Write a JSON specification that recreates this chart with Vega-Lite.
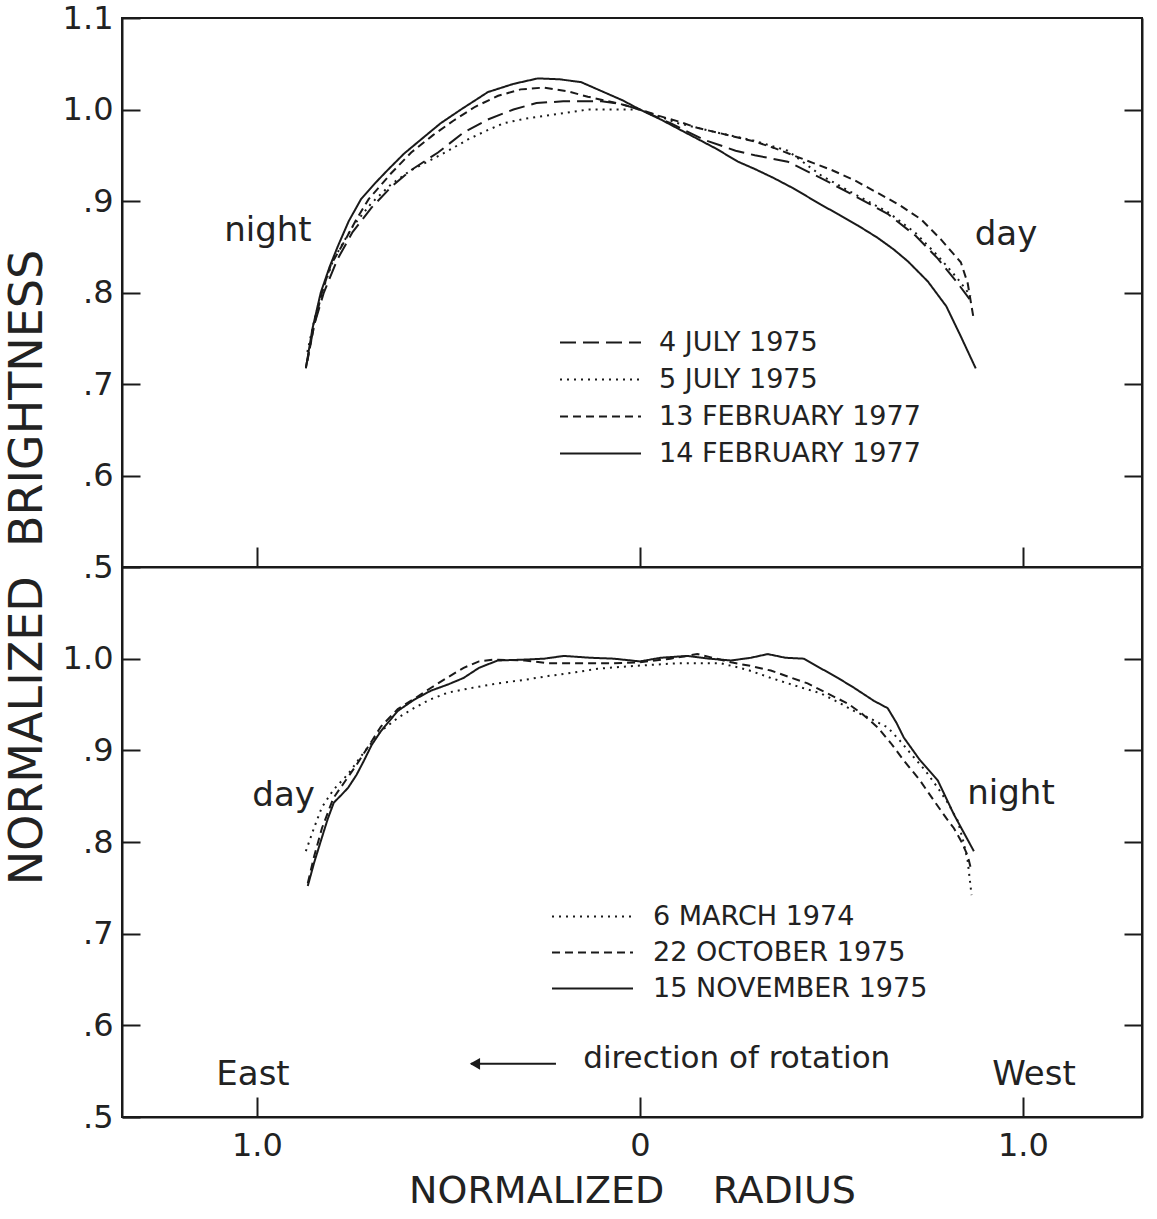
{
  "$schema": "https://vega.github.io/schema/vega-lite/v6.json",
  "background": "white",
  "padding": {"left": 3, "top": 1, "right": 10, "bottom": 5},
  "spacing": 0,
  "bounds": "flush",
  "datasets": {
    "top": [
      {"series": "14 FEBRUARY 1977", "x": -0.872, "y": 0.717},
      {"series": "14 FEBRUARY 1977", "x": -0.855, "y": 0.76},
      {"series": "14 FEBRUARY 1977", "x": -0.833, "y": 0.8},
      {"series": "14 FEBRUARY 1977", "x": -0.81, "y": 0.828},
      {"series": "14 FEBRUARY 1977", "x": -0.789, "y": 0.85},
      {"series": "14 FEBRUARY 1977", "x": -0.76, "y": 0.878},
      {"series": "14 FEBRUARY 1977", "x": -0.728, "y": 0.902},
      {"series": "14 FEBRUARY 1977", "x": -0.69, "y": 0.92},
      {"series": "14 FEBRUARY 1977", "x": -0.658, "y": 0.934},
      {"series": "14 FEBRUARY 1977", "x": -0.615, "y": 0.952},
      {"series": "14 FEBRUARY 1977", "x": -0.572, "y": 0.967},
      {"series": "14 FEBRUARY 1977", "x": -0.52, "y": 0.985},
      {"series": "14 FEBRUARY 1977", "x": -0.467, "y": 1.0},
      {"series": "14 FEBRUARY 1977", "x": -0.43, "y": 1.01},
      {"series": "14 FEBRUARY 1977", "x": -0.397, "y": 1.019},
      {"series": "14 FEBRUARY 1977", "x": -0.33, "y": 1.028},
      {"series": "14 FEBRUARY 1977", "x": -0.266, "y": 1.034},
      {"series": "14 FEBRUARY 1977", "x": -0.21, "y": 1.033},
      {"series": "14 FEBRUARY 1977", "x": -0.154, "y": 1.03},
      {"series": "14 FEBRUARY 1977", "x": -0.094, "y": 1.019},
      {"series": "14 FEBRUARY 1977", "x": -0.045, "y": 1.01},
      {"series": "14 FEBRUARY 1977", "x": 0.0, "y": 1.0},
      {"series": "14 FEBRUARY 1977", "x": 0.055, "y": 0.989},
      {"series": "14 FEBRUARY 1977", "x": 0.1, "y": 0.979},
      {"series": "14 FEBRUARY 1977", "x": 0.15, "y": 0.968},
      {"series": "14 FEBRUARY 1977", "x": 0.2, "y": 0.957},
      {"series": "14 FEBRUARY 1977", "x": 0.256, "y": 0.943},
      {"series": "14 FEBRUARY 1977", "x": 0.3, "y": 0.935},
      {"series": "14 FEBRUARY 1977", "x": 0.35, "y": 0.925},
      {"series": "14 FEBRUARY 1977", "x": 0.4, "y": 0.914},
      {"series": "14 FEBRUARY 1977", "x": 0.473, "y": 0.896},
      {"series": "14 FEBRUARY 1977", "x": 0.52, "y": 0.885},
      {"series": "14 FEBRUARY 1977", "x": 0.57, "y": 0.873},
      {"series": "14 FEBRUARY 1977", "x": 0.62, "y": 0.86},
      {"series": "14 FEBRUARY 1977", "x": 0.663, "y": 0.847},
      {"series": "14 FEBRUARY 1977", "x": 0.7, "y": 0.834},
      {"series": "14 FEBRUARY 1977", "x": 0.752, "y": 0.812},
      {"series": "14 FEBRUARY 1977", "x": 0.8, "y": 0.785},
      {"series": "14 FEBRUARY 1977", "x": 0.838, "y": 0.752},
      {"series": "14 FEBRUARY 1977", "x": 0.877, "y": 0.717},

      {"series": "13 FEBRUARY 1977", "x": -0.868, "y": 0.725},
      {"series": "13 FEBRUARY 1977", "x": -0.85, "y": 0.765},
      {"series": "13 FEBRUARY 1977", "x": -0.83, "y": 0.8},
      {"series": "13 FEBRUARY 1977", "x": -0.807, "y": 0.83},
      {"series": "13 FEBRUARY 1977", "x": -0.771, "y": 0.856},
      {"series": "13 FEBRUARY 1977", "x": -0.74, "y": 0.88},
      {"series": "13 FEBRUARY 1977", "x": -0.708, "y": 0.902},
      {"series": "13 FEBRUARY 1977", "x": -0.65, "y": 0.93},
      {"series": "13 FEBRUARY 1977", "x": -0.597, "y": 0.953},
      {"series": "13 FEBRUARY 1977", "x": -0.54, "y": 0.972},
      {"series": "13 FEBRUARY 1977", "x": -0.486, "y": 0.988},
      {"series": "13 FEBRUARY 1977", "x": -0.43, "y": 1.003},
      {"series": "13 FEBRUARY 1977", "x": -0.37, "y": 1.015},
      {"series": "13 FEBRUARY 1977", "x": -0.311, "y": 1.022},
      {"series": "13 FEBRUARY 1977", "x": -0.25, "y": 1.024},
      {"series": "13 FEBRUARY 1977", "x": -0.19, "y": 1.02},
      {"series": "13 FEBRUARY 1977", "x": -0.136, "y": 1.014},
      {"series": "13 FEBRUARY 1977", "x": -0.05, "y": 1.006},
      {"series": "13 FEBRUARY 1977", "x": 0.0, "y": 1.0},
      {"series": "13 FEBRUARY 1977", "x": 0.05, "y": 0.993},
      {"series": "13 FEBRUARY 1977", "x": 0.1, "y": 0.987},
      {"series": "13 FEBRUARY 1977", "x": 0.15, "y": 0.98},
      {"series": "13 FEBRUARY 1977", "x": 0.2, "y": 0.975},
      {"series": "13 FEBRUARY 1977", "x": 0.25, "y": 0.97},
      {"series": "13 FEBRUARY 1977", "x": 0.3, "y": 0.965},
      {"series": "13 FEBRUARY 1977", "x": 0.35, "y": 0.958},
      {"series": "13 FEBRUARY 1977", "x": 0.4, "y": 0.95},
      {"series": "13 FEBRUARY 1977", "x": 0.45, "y": 0.942},
      {"series": "13 FEBRUARY 1977", "x": 0.5, "y": 0.934},
      {"series": "13 FEBRUARY 1977", "x": 0.559, "y": 0.923},
      {"series": "13 FEBRUARY 1977", "x": 0.629, "y": 0.907},
      {"series": "13 FEBRUARY 1977", "x": 0.68, "y": 0.895},
      {"series": "13 FEBRUARY 1977", "x": 0.734, "y": 0.88},
      {"series": "13 FEBRUARY 1977", "x": 0.786, "y": 0.858},
      {"series": "13 FEBRUARY 1977", "x": 0.838, "y": 0.833},
      {"series": "13 FEBRUARY 1977", "x": 0.856, "y": 0.81},
      {"series": "13 FEBRUARY 1977", "x": 0.872, "y": 0.77},

      {"series": "4 JULY 1975", "x": -0.872, "y": 0.718},
      {"series": "4 JULY 1975", "x": -0.85, "y": 0.765},
      {"series": "4 JULY 1975", "x": -0.825, "y": 0.8},
      {"series": "4 JULY 1975", "x": -0.79, "y": 0.836},
      {"series": "4 JULY 1975", "x": -0.75, "y": 0.866},
      {"series": "4 JULY 1975", "x": -0.7, "y": 0.893},
      {"series": "4 JULY 1975", "x": -0.65, "y": 0.915},
      {"series": "4 JULY 1975", "x": -0.6, "y": 0.933},
      {"series": "4 JULY 1975", "x": -0.527, "y": 0.953},
      {"series": "4 JULY 1975", "x": -0.46, "y": 0.975},
      {"series": "4 JULY 1975", "x": -0.397, "y": 0.989},
      {"series": "4 JULY 1975", "x": -0.33, "y": 1.0},
      {"series": "4 JULY 1975", "x": -0.27, "y": 1.007},
      {"series": "4 JULY 1975", "x": -0.2, "y": 1.009},
      {"series": "4 JULY 1975", "x": -0.1, "y": 1.009},
      {"series": "4 JULY 1975", "x": -0.05, "y": 1.006},
      {"series": "4 JULY 1975", "x": 0.0, "y": 1.0},
      {"series": "4 JULY 1975", "x": 0.08, "y": 0.985},
      {"series": "4 JULY 1975", "x": 0.167, "y": 0.967},
      {"series": "4 JULY 1975", "x": 0.25, "y": 0.955},
      {"series": "4 JULY 1975", "x": 0.3, "y": 0.95},
      {"series": "4 JULY 1975", "x": 0.386, "y": 0.943},
      {"series": "4 JULY 1975", "x": 0.473, "y": 0.925},
      {"series": "4 JULY 1975", "x": 0.55, "y": 0.908},
      {"series": "4 JULY 1975", "x": 0.647, "y": 0.886},
      {"series": "4 JULY 1975", "x": 0.72, "y": 0.862},
      {"series": "4 JULY 1975", "x": 0.778, "y": 0.837},
      {"series": "4 JULY 1975", "x": 0.83, "y": 0.81},
      {"series": "4 JULY 1975", "x": 0.866, "y": 0.79},

      {"series": "5 JULY 1975", "x": -0.868, "y": 0.735},
      {"series": "5 JULY 1975", "x": -0.85, "y": 0.77},
      {"series": "5 JULY 1975", "x": -0.83, "y": 0.8},
      {"series": "5 JULY 1975", "x": -0.8, "y": 0.836},
      {"series": "5 JULY 1975", "x": -0.75, "y": 0.872},
      {"series": "5 JULY 1975", "x": -0.7, "y": 0.898},
      {"series": "5 JULY 1975", "x": -0.65, "y": 0.918},
      {"series": "5 JULY 1975", "x": -0.6, "y": 0.933},
      {"series": "5 JULY 1975", "x": -0.55, "y": 0.944},
      {"series": "5 JULY 1975", "x": -0.5, "y": 0.955},
      {"series": "5 JULY 1975", "x": -0.45, "y": 0.967},
      {"series": "5 JULY 1975", "x": -0.4, "y": 0.977},
      {"series": "5 JULY 1975", "x": -0.355, "y": 0.985},
      {"series": "5 JULY 1975", "x": -0.3, "y": 0.99},
      {"series": "5 JULY 1975", "x": -0.2, "y": 0.996},
      {"series": "5 JULY 1975", "x": -0.136, "y": 1.0},
      {"series": "5 JULY 1975", "x": -0.07, "y": 1.0},
      {"series": "5 JULY 1975", "x": 0.0, "y": 1.0},
      {"series": "5 JULY 1975", "x": 0.1, "y": 0.985},
      {"series": "5 JULY 1975", "x": 0.2, "y": 0.975},
      {"series": "5 JULY 1975", "x": 0.298, "y": 0.966},
      {"series": "5 JULY 1975", "x": 0.386, "y": 0.955},
      {"series": "5 JULY 1975", "x": 0.473, "y": 0.928},
      {"series": "5 JULY 1975", "x": 0.55, "y": 0.91},
      {"series": "5 JULY 1975", "x": 0.647, "y": 0.888},
      {"series": "5 JULY 1975", "x": 0.72, "y": 0.865},
      {"series": "5 JULY 1975", "x": 0.778, "y": 0.84},
      {"series": "5 JULY 1975", "x": 0.83, "y": 0.815},
      {"series": "5 JULY 1975", "x": 0.864, "y": 0.796}
    ],
    "bottom": [
      {"series": "15 NOVEMBER 1975", "x": -0.867, "y": 0.752},
      {"series": "15 NOVEMBER 1975", "x": -0.85, "y": 0.778},
      {"series": "15 NOVEMBER 1975", "x": -0.833, "y": 0.801},
      {"series": "15 NOVEMBER 1975", "x": -0.815, "y": 0.825},
      {"series": "15 NOVEMBER 1975", "x": -0.799, "y": 0.843},
      {"series": "15 NOVEMBER 1975", "x": -0.78, "y": 0.851},
      {"series": "15 NOVEMBER 1975", "x": -0.762, "y": 0.859},
      {"series": "15 NOVEMBER 1975", "x": -0.74, "y": 0.873},
      {"series": "15 NOVEMBER 1975", "x": -0.72, "y": 0.889},
      {"series": "15 NOVEMBER 1975", "x": -0.7, "y": 0.906},
      {"series": "15 NOVEMBER 1975", "x": -0.676, "y": 0.921},
      {"series": "15 NOVEMBER 1975", "x": -0.632, "y": 0.943},
      {"series": "15 NOVEMBER 1975", "x": -0.59, "y": 0.955},
      {"series": "15 NOVEMBER 1975", "x": -0.546, "y": 0.965},
      {"series": "15 NOVEMBER 1975", "x": -0.5, "y": 0.972},
      {"series": "15 NOVEMBER 1975", "x": -0.46, "y": 0.979},
      {"series": "15 NOVEMBER 1975", "x": -0.42, "y": 0.99},
      {"series": "15 NOVEMBER 1975", "x": -0.371, "y": 0.998},
      {"series": "15 NOVEMBER 1975", "x": -0.3, "y": 0.999},
      {"series": "15 NOVEMBER 1975", "x": -0.25, "y": 1.0},
      {"series": "15 NOVEMBER 1975", "x": -0.198, "y": 1.003},
      {"series": "15 NOVEMBER 1975", "x": -0.13, "y": 1.001},
      {"series": "15 NOVEMBER 1975", "x": -0.068, "y": 1.0},
      {"series": "15 NOVEMBER 1975", "x": 0.0, "y": 0.997},
      {"series": "15 NOVEMBER 1975", "x": 0.055, "y": 1.001},
      {"series": "15 NOVEMBER 1975", "x": 0.125, "y": 1.003},
      {"series": "15 NOVEMBER 1975", "x": 0.18, "y": 1.0},
      {"series": "15 NOVEMBER 1975", "x": 0.238, "y": 0.998},
      {"series": "15 NOVEMBER 1975", "x": 0.29, "y": 1.001},
      {"series": "15 NOVEMBER 1975", "x": 0.334, "y": 1.005},
      {"series": "15 NOVEMBER 1975", "x": 0.38, "y": 1.001},
      {"series": "15 NOVEMBER 1975", "x": 0.428, "y": 1.0},
      {"series": "15 NOVEMBER 1975", "x": 0.47, "y": 0.99},
      {"series": "15 NOVEMBER 1975", "x": 0.517, "y": 0.979},
      {"series": "15 NOVEMBER 1975", "x": 0.56, "y": 0.968},
      {"series": "15 NOVEMBER 1975", "x": 0.611, "y": 0.954},
      {"series": "15 NOVEMBER 1975", "x": 0.647, "y": 0.946},
      {"series": "15 NOVEMBER 1975", "x": 0.67, "y": 0.93},
      {"series": "15 NOVEMBER 1975", "x": 0.689, "y": 0.914},
      {"series": "15 NOVEMBER 1975", "x": 0.73, "y": 0.89},
      {"series": "15 NOVEMBER 1975", "x": 0.778, "y": 0.867},
      {"series": "15 NOVEMBER 1975", "x": 0.82, "y": 0.83},
      {"series": "15 NOVEMBER 1975", "x": 0.872, "y": 0.79},

      {"series": "22 OCTOBER 1975", "x": -0.867, "y": 0.755},
      {"series": "22 OCTOBER 1975", "x": -0.85, "y": 0.785},
      {"series": "22 OCTOBER 1975", "x": -0.83, "y": 0.815},
      {"series": "22 OCTOBER 1975", "x": -0.8, "y": 0.848},
      {"series": "22 OCTOBER 1975", "x": -0.77, "y": 0.866},
      {"series": "22 OCTOBER 1975", "x": -0.74, "y": 0.884},
      {"series": "22 OCTOBER 1975", "x": -0.7, "y": 0.91},
      {"series": "22 OCTOBER 1975", "x": -0.676, "y": 0.926},
      {"series": "22 OCTOBER 1975", "x": -0.632, "y": 0.945},
      {"series": "22 OCTOBER 1975", "x": -0.59, "y": 0.956},
      {"series": "22 OCTOBER 1975", "x": -0.546, "y": 0.968},
      {"series": "22 OCTOBER 1975", "x": -0.5, "y": 0.98},
      {"series": "22 OCTOBER 1975", "x": -0.46, "y": 0.99},
      {"series": "22 OCTOBER 1975", "x": -0.42, "y": 0.997},
      {"series": "22 OCTOBER 1975", "x": -0.38, "y": 0.999},
      {"series": "22 OCTOBER 1975", "x": -0.3, "y": 0.998},
      {"series": "22 OCTOBER 1975", "x": -0.24, "y": 0.995},
      {"series": "22 OCTOBER 1975", "x": -0.15, "y": 0.995},
      {"series": "22 OCTOBER 1975", "x": -0.068, "y": 0.995},
      {"series": "22 OCTOBER 1975", "x": 0.0, "y": 0.996},
      {"series": "22 OCTOBER 1975", "x": 0.08, "y": 1.0},
      {"series": "22 OCTOBER 1975", "x": 0.15, "y": 1.005},
      {"series": "22 OCTOBER 1975", "x": 0.2, "y": 1.0},
      {"series": "22 OCTOBER 1975", "x": 0.238, "y": 0.996},
      {"series": "22 OCTOBER 1975", "x": 0.29, "y": 0.992},
      {"series": "22 OCTOBER 1975", "x": 0.342, "y": 0.987},
      {"series": "22 OCTOBER 1975", "x": 0.39, "y": 0.98},
      {"series": "22 OCTOBER 1975", "x": 0.438, "y": 0.973},
      {"series": "22 OCTOBER 1975", "x": 0.49, "y": 0.962},
      {"series": "22 OCTOBER 1975", "x": 0.543, "y": 0.951},
      {"series": "22 OCTOBER 1975", "x": 0.58, "y": 0.94},
      {"series": "22 OCTOBER 1975", "x": 0.621, "y": 0.925},
      {"series": "22 OCTOBER 1975", "x": 0.655, "y": 0.908},
      {"series": "22 OCTOBER 1975", "x": 0.689, "y": 0.889},
      {"series": "22 OCTOBER 1975", "x": 0.73, "y": 0.868},
      {"series": "22 OCTOBER 1975", "x": 0.768, "y": 0.845},
      {"series": "22 OCTOBER 1975", "x": 0.8, "y": 0.826},
      {"series": "22 OCTOBER 1975", "x": 0.82, "y": 0.815},
      {"series": "22 OCTOBER 1975", "x": 0.84, "y": 0.8},
      {"series": "22 OCTOBER 1975", "x": 0.856, "y": 0.785},
      {"series": "22 OCTOBER 1975", "x": 0.866, "y": 0.768},

      {"series": "6 MARCH 1974", "x": -0.872, "y": 0.79},
      {"series": "6 MARCH 1974", "x": -0.851, "y": 0.815},
      {"series": "6 MARCH 1974", "x": -0.83, "y": 0.838},
      {"series": "6 MARCH 1974", "x": -0.8, "y": 0.857},
      {"series": "6 MARCH 1974", "x": -0.762, "y": 0.874},
      {"series": "6 MARCH 1974", "x": -0.72, "y": 0.898},
      {"series": "6 MARCH 1974", "x": -0.676, "y": 0.921},
      {"series": "6 MARCH 1974", "x": -0.63, "y": 0.936},
      {"series": "6 MARCH 1974", "x": -0.59, "y": 0.946},
      {"series": "6 MARCH 1974", "x": -0.55, "y": 0.955},
      {"series": "6 MARCH 1974", "x": -0.501, "y": 0.963},
      {"series": "6 MARCH 1974", "x": -0.44, "y": 0.968},
      {"series": "6 MARCH 1974", "x": -0.371, "y": 0.973},
      {"series": "6 MARCH 1974", "x": -0.3, "y": 0.977},
      {"series": "6 MARCH 1974", "x": -0.24, "y": 0.981},
      {"series": "6 MARCH 1974", "x": -0.17, "y": 0.985},
      {"series": "6 MARCH 1974", "x": -0.11, "y": 0.989},
      {"series": "6 MARCH 1974", "x": -0.05, "y": 0.991},
      {"series": "6 MARCH 1974", "x": 0.02, "y": 0.993},
      {"series": "6 MARCH 1974", "x": 0.1, "y": 0.995},
      {"series": "6 MARCH 1974", "x": 0.211, "y": 0.995},
      {"series": "6 MARCH 1974", "x": 0.28, "y": 0.988},
      {"series": "6 MARCH 1974", "x": 0.342, "y": 0.979},
      {"series": "6 MARCH 1974", "x": 0.41, "y": 0.97},
      {"series": "6 MARCH 1974", "x": 0.473, "y": 0.962},
      {"series": "6 MARCH 1974", "x": 0.52, "y": 0.952},
      {"series": "6 MARCH 1974", "x": 0.559, "y": 0.943},
      {"series": "6 MARCH 1974", "x": 0.6, "y": 0.935},
      {"series": "6 MARCH 1974", "x": 0.647, "y": 0.925},
      {"series": "6 MARCH 1974", "x": 0.68, "y": 0.91},
      {"series": "6 MARCH 1974", "x": 0.708, "y": 0.896},
      {"series": "6 MARCH 1974", "x": 0.745, "y": 0.878},
      {"series": "6 MARCH 1974", "x": 0.778, "y": 0.859},
      {"series": "6 MARCH 1974", "x": 0.805, "y": 0.842},
      {"series": "6 MARCH 1974", "x": 0.83, "y": 0.823},
      {"series": "6 MARCH 1974", "x": 0.845, "y": 0.8},
      {"series": "6 MARCH 1974", "x": 0.856, "y": 0.779},
      {"series": "6 MARCH 1974", "x": 0.866, "y": 0.742}
    ],
    "notes": [
      {"panel": "top", "label": "night", "x": -0.971, "y": 0.867},
      {"panel": "top", "label": "day", "x": 0.956, "y": 0.863},
      {"panel": "bottom", "label": "day", "x": -0.93, "y": 0.85},
      {"panel": "bottom", "label": "night", "x": 0.969, "y": 0.852},
      {"panel": "bottom", "label": "East", "x": -1.01, "y": 0.546},
      {"panel": "bottom", "label": "West", "x": 1.029, "y": 0.546},
      {"panel": "bottom", "label": "direction of rotation", "x": 0.253, "y": 0.563}
    ],
    "arrow": [
      {"x": -0.441, "x2": -0.219, "y": 0.558}
    ]
  },
  "vconcat": [
    {
      "width": 1020,
      "height": 549,
      "layer": [
        {
          "data": {"name": "top"},
          "mark": {"type": "line", "stroke": "#1a1a1a", "color": "#1a1a1a", "strokeWidth": 2, "strokeCap": "butt", "clip": true},
          "encoding": {
            "x": {"field": "x", "type": "quantitative", "scale": {"domain": [-1.352, 1.311], "nice": false, "zero": false},
              "axis": {"values": [-1, 0, 1], "labels": false, "title": null, "tickSize": -20, "zindex": 1}},
            "y": {"field": "y", "type": "quantitative", "scale": {"domain": [0.5, 1.1], "nice": false, "zero": false},
              "axis": {"values": [0.5, 0.6, 0.7, 0.8, 0.9, 1.0, 1.1],
                "labelExpr": "datum.value >= 1 ? format(datum.value, '.1f') : replace(format(datum.value, '.1f'), '0.', '.')",
                "tickSize": -18, "labelPadding": 27, "zindex": 1,
                "title": "NORMALIZED\u00a0\u00a0BRIGHTNESS", "titleFontSize": 46, "titleAngle": -90, "titleX": -95, "titleY": 549, "titleAlign": "center", "titleBaseline": "middle"}},
            "strokeDash": {"field": "series", "type": "nominal",
              "scale": {"domain": ["4 JULY 1975", "5 JULY 1975", "13 FEBRUARY 1977", "14 FEBRUARY 1977"],
                        "range": [[16, 7], [2, 5], [8, 5], [1, 0]]},
              "legend": {"orient": "none", "legendX": 464, "legendY": 310, "title": null,
                "symbolType": "M-3,0H3", "symbolSize": 729, "symbolStrokeWidth": 2, "symbolStrokeColor": "#1a1a1a",
                "labelFontSize": 27, "labelColor": "#222", "labelOffset": 44, "labelLimit": 500, "rowPadding": 9}}
          }
        },
        {
          "data": {"name": "notes"},
          "transform": [{"filter": "datum.panel == 'top'"}],
          "mark": {"type": "text", "fontSize": 34, "color": "#222", "align": "center", "baseline": "middle"},
          "encoding": {
            "x": {"field": "x", "type": "quantitative", "scale": {"domain": [-1.352, 1.311], "nice": false, "zero": false},
              "axis": {"values": [-1, 0, 1], "labels": false, "title": null, "tickSize": -20, "zindex": 1}},
            "y": {"field": "y", "type": "quantitative", "scale": {"domain": [0.5, 1.1], "nice": false, "zero": false},
              "axis": {"orient": "right", "values": [0.6, 0.7, 0.8, 0.9, 1.0], "labels": false, "title": null, "tickSize": -18, "zindex": 1}},
            "text": {"field": "label"}
          }
        }
      ],
      "resolve": {"axis": {"y": "independent"}}
    },
    {
      "width": 1020,
      "height": 550,
      "layer": [
        {
          "data": {"name": "bottom"},
          "mark": {"type": "line", "stroke": "#1a1a1a", "color": "#1a1a1a", "strokeWidth": 2, "strokeCap": "butt", "clip": true},
          "encoding": {
            "x": {"field": "x", "type": "quantitative", "scale": {"domain": [-1.352, 1.311], "nice": false, "zero": false},
              "axis": {"values": [-1, 0, 1], "labelExpr": "datum.value == 0 ? '0' : '1.0'", "tickSize": -20, "labelPadding": 33, "zindex": 1,
                "title": "NORMALIZED\u00a0\u00a0\u00a0\u00a0RADIUS", "titleFontSize": 38, "titlePadding": 11}},
            "y": {"field": "y", "type": "quantitative", "scale": {"domain": [0.5, 1.1], "nice": false, "zero": false},
              "axis": {"values": [0.5, 0.6, 0.7, 0.8, 0.9, 1.0],
                "labelExpr": "datum.value >= 1 ? format(datum.value, '.1f') : replace(format(datum.value, '.1f'), '0.', '.')",
                "tickSize": -18, "labelPadding": 27, "zindex": 1, "title": null}},
            "strokeDash": {"field": "series", "type": "nominal",
              "scale": {"domain": ["6 MARCH 1974", "22 OCTOBER 1975", "15 NOVEMBER 1975"],
                        "range": [[2, 5], [8, 5], [1, 0]]},
              "legend": {"orient": "none", "legendX": 456, "legendY": 335, "title": null,
                "symbolType": "M-3,0H3", "symbolSize": 729, "symbolStrokeWidth": 2, "symbolStrokeColor": "#1a1a1a",
                "labelFontSize": 27, "labelColor": "#222", "labelOffset": 46, "labelLimit": 500, "rowPadding": 8}}
          }
        },
        {
          "data": {"name": "notes"},
          "transform": [{"filter": "datum.panel == 'bottom'"}],
          "mark": {"type": "text", "color": "#222", "align": "center", "baseline": "middle"},
          "encoding": {
            "x": {"field": "x", "type": "quantitative", "scale": {"domain": [-1.352, 1.311], "nice": false, "zero": false},
              "axis": {"values": [-1, 0, 1], "labelExpr": "datum.value == 0 ? '0' : '1.0'", "tickSize": -20, "labelPadding": 33, "zindex": 1,
                "title": "NORMALIZED\u00a0\u00a0\u00a0\u00a0RADIUS", "titleFontSize": 38, "titlePadding": 11}},
            "y": {"field": "y", "type": "quantitative", "scale": {"domain": [0.5, 1.1], "nice": false, "zero": false},
              "axis": {"orient": "right", "values": [0.6, 0.7, 0.8, 0.9, 1.0], "labels": false, "title": null, "tickSize": -18, "zindex": 1}},
            "text": {"field": "label"},
            "size": {"condition": {"test": "datum.label == 'direction of rotation'", "value": 31}, "value": 34}
          }
        },
        {
          "data": {"name": "arrow"},
          "mark": {"type": "rule", "color": "#1a1a1a", "strokeWidth": 2},
          "encoding": {
            "x": {"field": "x", "type": "quantitative", "scale": {"domain": [-1.352, 1.311], "nice": false, "zero": false},
              "axis": {"values": [-1, 0, 1], "labelExpr": "datum.value == 0 ? '0' : '1.0'", "tickSize": -20, "labelPadding": 33, "zindex": 1,
                "title": "NORMALIZED\u00a0\u00a0\u00a0\u00a0RADIUS", "titleFontSize": 38, "titlePadding": 11}},
            "x2": {"field": "x2"},
            "y": {"field": "y", "type": "quantitative", "scale": {"domain": [0.5, 1.1], "nice": false, "zero": false}, "axis": null}
          }
        },
        {
          "data": {"name": "arrow"},
          "mark": {"type": "point", "shape": "triangle-left", "filled": true, "color": "#1a1a1a", "size": 140, "opacity": 1, "xOffset": 4},
          "encoding": {
            "x": {"field": "x", "type": "quantitative", "scale": {"domain": [-1.352, 1.311], "nice": false, "zero": false},
              "axis": {"values": [-1, 0, 1], "labelExpr": "datum.value == 0 ? '0' : '1.0'", "tickSize": -20, "labelPadding": 33, "zindex": 1,
                "title": "NORMALIZED\u00a0\u00a0\u00a0\u00a0RADIUS", "titleFontSize": 38, "titlePadding": 11}},
            "y": {"field": "y", "type": "quantitative", "scale": {"domain": [0.5, 1.1], "nice": false, "zero": false}, "axis": null}
          }
        }
      ],
      "resolve": {"axis": {"y": "independent"}}
    }
  ],
  "resolve": {"scale": {"strokeDash": "independent"}, "legend": {"strokeDash": "independent"}},
  "config": {
    "font": "DejaVu Sans",
    "view": {"stroke": "#1a1a1a", "strokeWidth": 2},
    "axis": {"domainColor": "#1a1a1a", "domainWidth": 2, "tickColor": "#1a1a1a", "tickWidth": 2,
      "labelFontSize": 32, "labelColor": "#222", "grid": false,
      "titleFontSize": 34, "titleFontWeight": "normal", "titleColor": "#222"},
    "legend": {"labelFont": "DejaVu Sans"},
    "text": {"font": "DejaVu Sans"}
  }
}
